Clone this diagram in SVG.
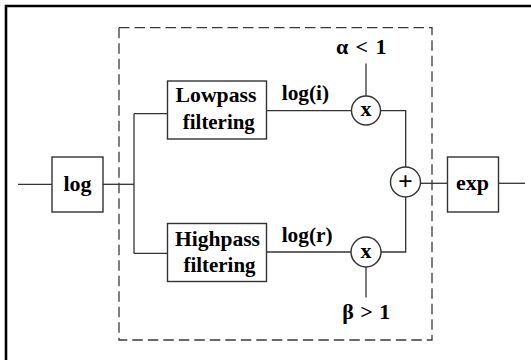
<svg xmlns="http://www.w3.org/2000/svg" width="531" height="360" viewBox="0 0 531 360">
<style>
.frame{fill:none;stroke:#000;stroke-width:2.6}
.dash{fill:none;stroke:#3a3a3a;stroke-width:1.3;stroke-dasharray:10.5 5}
.box{fill:#fff;stroke:#333;stroke-width:1.4}
.ln{fill:none;stroke:#333;stroke-width:1.3}
.t{font-family:"Liberation Serif","Times New Roman",serif;font-weight:bold;font-size:22px;fill:#000}
.m{text-anchor:middle}
</style>
<rect width="531" height="360" fill="#fff"/>
<g id="frame">
<path class="frame" d="M6,360 V6 H531"/>
</g>
<g id="group-box">
<rect class="dash" x="119" y="27.7" width="313" height="312.3"/>
</g>
<g id="connectors">
<path class="ln" d="M18,184.3 H52"/>
<path class="ln" d="M103,184.3 H134"/>
<path class="ln" d="M134,113.7 V253.5"/>
<path class="ln" d="M134,113.7 H167.5"/>
<path class="ln" d="M134,253.3 H167.5"/>
<path class="ln" d="M266.5,110.7 H351.5"/>
<path class="ln" d="M266.5,252 H351"/>
<path class="ln" d="M380.5,110.7 H405.7 V167"/>
<path class="ln" d="M381,252 H405.7 V197"/>
<path class="ln" d="M366,63.5 V96"/>
<path class="ln" d="M366,267 V297.5"/>
<path class="ln" d="M420.5,183.3 H447.5"/>
<path class="ln" d="M498.5,183.3 H525"/>
</g>
<g id="log">
<rect class="box" x="52" y="157" width="51" height="55"/>
<text class="t m" x="77.5" y="190.5">log</text>
</g>
<g id="lowpass">
<rect class="box" x="167.5" y="81" width="99" height="58"/>
<text class="t m" x="216" y="102" textLength="81" lengthAdjust="spacingAndGlyphs">Lowpass</text>
<text class="t m" x="218.8" y="128.5" textLength="72" lengthAdjust="spacingAndGlyphs">filtering</text>
</g>
<g id="highpass">
<rect class="box" x="167.5" y="223.5" width="99" height="58"/>
<text class="t m" x="217.5" y="245.5" textLength="85" lengthAdjust="spacingAndGlyphs">Highpass</text>
<text class="t m" x="219.5" y="272" textLength="72" lengthAdjust="spacingAndGlyphs">filtering</text>
</g>
<g id="mult-top">
<circle class="box" cx="366" cy="110.5" r="14.5"/>
<text class="t m" x="366" y="116">x</text>
</g>
<g id="mult-bottom">
<circle class="box" cx="366" cy="252" r="15"/>
<text class="t m" x="366" y="257.5">x</text>
</g>
<g id="sum">
<circle class="box" cx="405.5" cy="182" r="15"/>
<text class="t m" x="405.5" y="190" style="font-size:26px">+</text>
</g>
<g id="exp">
<rect class="box" x="447.5" y="157" width="51" height="55"/>
<text class="t m" x="472.5" y="190">exp</text>
</g>
<g id="labels">
<text class="t" x="281.7" y="100" textLength="47.5" lengthAdjust="spacingAndGlyphs">log(i)</text>
<text class="t" x="281.7" y="241.7" textLength="51" lengthAdjust="spacingAndGlyphs">log(r)</text>
<text class="t" x="336" y="53.5" textLength="50.5" lengthAdjust="spacing">α &lt; 1</text>
<text class="t" x="342.3" y="318.5" textLength="48" lengthAdjust="spacing">β &gt; 1</text>
</g>
</svg>
